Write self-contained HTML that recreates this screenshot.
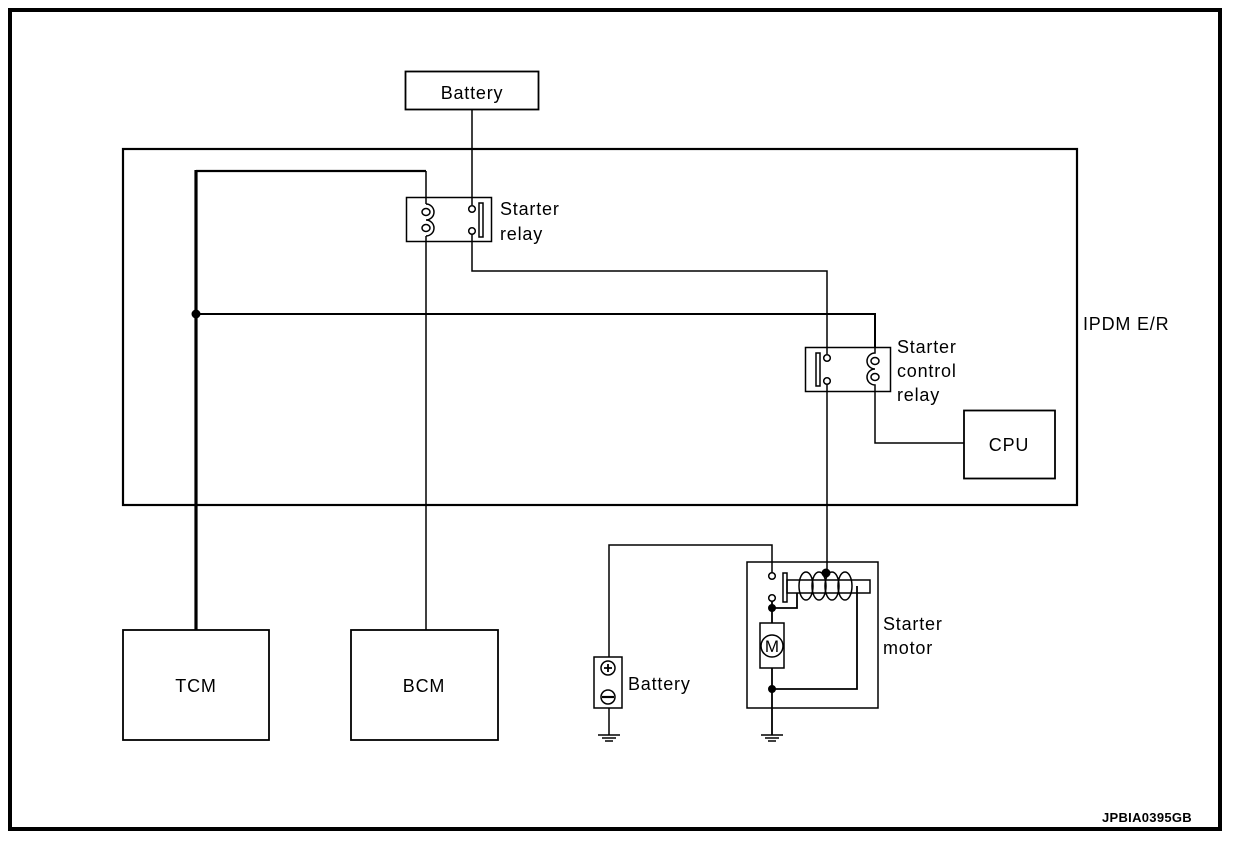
<!DOCTYPE html>
<html><head><meta charset="utf-8"><style>
html,body{margin:0;padding:0;background:#fff;width:1248px;height:844px;overflow:hidden}
svg text{font-family:"Liberation Sans",sans-serif;fill:#000;font-size:18px;letter-spacing:0.8px}
</style></head><body>
<svg width="1248" height="844" viewBox="0 0 1248 844" xmlns="http://www.w3.org/2000/svg" fill="none" stroke="#000">
<rect x="10" y="10" width="1210" height="819" stroke-width="4"/>
<rect x="405.5" y="71.5" width="133" height="38" stroke-width="1.8"/>
<text x="472" y="99" text-anchor="middle" stroke="none">Battery</text>
<line x1="472" y1="110" x2="472" y2="205" stroke-width="1.5"/>
<rect x="123" y="149" width="954" height="356" stroke-width="2.2"/>
<text x="1083" y="330" stroke="none">IPDM E/R</text>
<rect x="406.5" y="197.5" width="85" height="44" stroke-width="1.5"/>
<path d="M426 171 V204 M426 236 V630" stroke-width="1.5"/>
<path d="M426 204 a8 8 0 0 1 0 16 a8 8 0 0 1 0 16" stroke-width="1.5"/>
<ellipse cx="426" cy="212" rx="4" ry="3.5" stroke-width="1.5"/>
<ellipse cx="426" cy="228" rx="4" ry="3.5" stroke-width="1.5"/>
<circle cx="472" cy="209" r="3.3" stroke-width="1.5"/>
<circle cx="472" cy="231" r="3.3" stroke-width="1.5"/>
<rect x="479" y="203" width="4" height="34" stroke-width="1.5"/>
<text x="500" y="215" stroke="none">Starter</text>
<text x="500" y="240" stroke="none">relay</text>
<path d="M472 234 V271 H827 V354" stroke-width="1.5"/>
<path d="M196 171 H426" stroke-width="2.2"/>
<line x1="196" y1="170" x2="196" y2="630" stroke-width="3.2"/>
<path d="M196 314 H875 V348" stroke-width="2"/>
<circle cx="196" cy="314" r="4" fill="#000"/>
<rect x="805.5" y="347.5" width="85" height="44" stroke-width="1.5"/>
<circle cx="827" cy="358" r="3.3" stroke-width="1.5"/>
<circle cx="827" cy="381" r="3.3" stroke-width="1.5"/>
<rect x="816" y="353" width="4" height="33" stroke-width="1.5"/>
<path d="M875 348 V353 a8 8 0 0 0 0 16 a8 8 0 0 0 0 16 V443 H964" stroke-width="1.5"/>
<ellipse cx="875" cy="361" rx="4" ry="3.5" stroke-width="1.5"/>
<ellipse cx="875" cy="377" rx="4" ry="3.5" stroke-width="1.5"/>
<text x="897" y="353" stroke="none">Starter</text>
<text x="897" y="377" stroke="none">control</text>
<text x="897" y="401" stroke="none">relay</text>
<line x1="827" y1="384" x2="827" y2="572" stroke-width="1.5"/>
<rect x="964" y="410.5" width="91" height="68" stroke-width="1.8"/>
<text x="1009" y="451" text-anchor="middle" stroke="none">CPU</text>
<rect x="123" y="630" width="146" height="110" stroke-width="1.8"/>
<text x="196" y="692" text-anchor="middle" stroke="none">TCM</text>
<rect x="351" y="630" width="147" height="110" stroke-width="1.8"/>
<text x="424" y="692" text-anchor="middle" stroke="none">BCM</text>
<path d="M772 573 V545 H609 V657" stroke-width="1.5"/>
<rect x="594" y="657" width="28" height="51" stroke-width="1.5"/>
<circle cx="608" cy="668" r="7" stroke-width="1.5"/>
<path d="M604 668 H612 M608 664 V672" stroke-width="1.8"/>
<circle cx="608" cy="697" r="7" stroke-width="1.5"/>
<path d="M602 697 H614" stroke-width="2.2"/>
<path d="M609 708 V735 M598 735 H620 M602 738 H616 M605 741 H613" stroke-width="1.5"/>
<text x="628" y="690" stroke="none">Battery</text>
<rect x="747" y="562" width="131" height="146" stroke-width="1.5"/>
<text x="883" y="630" stroke="none">Starter</text>
<text x="883" y="654" stroke="none">motor</text>
<circle cx="772" cy="576" r="3.3" stroke-width="1.5"/>
<circle cx="772" cy="598" r="3.3" stroke-width="1.5"/>
<rect x="783" y="573" width="4" height="29" stroke-width="1.5"/>
<rect x="787" y="580" width="83" height="13" stroke-width="1.5"/>
<g stroke-width="1.5">
<ellipse cx="806" cy="586" rx="7" ry="14"/>
<ellipse cx="819" cy="586" rx="7" ry="14"/>
<ellipse cx="832" cy="586" rx="7" ry="14"/>
<ellipse cx="845" cy="586" rx="7" ry="14"/>
</g>
<circle cx="826" cy="573" r="4" fill="#000"/>
<path d="M772 601 V623 M772 608 H797 V593" stroke-width="1.8"/>
<circle cx="772" cy="608" r="3.5" fill="#000"/>
<rect x="760" y="623" width="24" height="45" stroke-width="1.5"/>
<circle cx="772" cy="646" r="11" stroke-width="1.5"/>
<text x="772" y="652" font-size="17" text-anchor="middle" stroke="none" style="font-size:17px;letter-spacing:0">M</text>
<path d="M772 668 V735 M772 689 H857 V586" stroke-width="1.8"/>
<circle cx="772" cy="689" r="3.5" fill="#000"/>
<path d="M761 735 H783 M765 738 H779 M768 741 H776" stroke-width="1.5"/>
<text x="1192" y="822" text-anchor="end" stroke="none" style="font-size:13px;letter-spacing:0.3px;font-weight:bold">JPBIA0395GB</text>
</svg>
</body></html>
